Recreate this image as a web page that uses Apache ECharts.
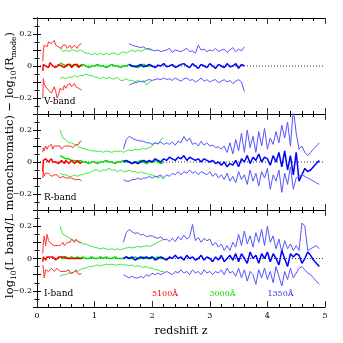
<!DOCTYPE html>
<html>
<head>
    <meta charset="utf-8">
    <title>Band vs monochromatic luminosity</title>
    <script src="https://cdn.jsdelivr.net/npm/echarts@6/dist/echarts.min.js"></script>
    <style>
        html, body { margin: 0; padding: 0; background: #fff; }
        #chart { width: 343px; height: 343px; }
    </style>
</head>
<body>
<div id="chart"></div>
<script>
    // redshift bins
    var zRed = [0.10, 0.11, 0.125, 0.15, 0.175, 0.20, 0.225, 0.25, 0.275, 0.30, 0.325, 0.35, 0.375, 0.40, 0.425,
        0.45, 0.475, 0.50, 0.525, 0.55, 0.575, 0.60, 0.625, 0.65, 0.675, 0.70, 0.725, 0.75, 0.775];
    var zGreen = [0.40, 0.45, 0.50, 0.55, 0.60, 0.65, 0.70, 0.75, 0.80, 0.85, 0.90, 0.95, 1.00, 1.05, 1.10, 1.15,
        1.20, 1.25, 1.30, 1.35, 1.40, 1.45, 1.50, 1.55, 1.60, 1.65, 1.70, 1.75, 1.80, 1.85, 1.90, 1.95, 2.00,
        2.05, 2.10, 2.15, 2.20];
    var zBlue = [1.50, 1.55, 1.60, 1.65, 1.70, 1.75, 1.80, 1.85, 1.90, 1.95, 2.00, 2.05, 2.10, 2.15, 2.20, 2.25,
        2.30, 2.35, 2.40, 2.45, 2.50, 2.55, 2.60, 2.65, 2.70, 2.75, 2.80, 2.85, 2.90, 2.95, 3.00, 3.05, 3.10,
        3.15, 3.20, 3.25, 3.30, 3.35, 3.40, 3.45, 3.50, 3.55, 3.60, 3.65, 3.70, 3.75, 3.80, 3.85, 3.90, 3.95,
        4.00, 4.05, 4.10, 4.15, 4.20, 4.25, 4.30, 4.35, 4.40, 4.45, 4.50, 4.55, 4.60, 4.65, 4.70, 4.75, 4.80,
        4.85, 4.90];

    // V-band
    var vRedHi = [0.03, 0.10, 0.13, 0.14, 0.12, 0.15, 0.16, 0.14, 0.15, 0.16, 0.13, 0.14, 0.12, 0.13, 0.11, 0.13,
        0.12, 0.13, 0.11, 0.12, 0.13, 0.11, 0.12, 0.13, 0.12, 0.11, 0.13, 0.12, 0.14];
    var vRedMid = [-0.03, 0.01, 0.02, 0.0, 0.01, -0.01, 0.02, 0.01, 0.0, 0.01, -0.01, 0.0, 0.01, 0.02, 0.0, 0.01,
        -0.01, 0.0, 0.01, 0.0, 0.01, -0.01, 0.0, 0.01, 0.0, 0.01, -0.01, 0.0, 0.01];
    var vRedLo = [-0.2, -0.08, -0.11, -0.13, -0.12, -0.15, -0.14, -0.17, -0.15, -0.13, -0.16, -0.2, -0.18, -0.14,
        -0.13, -0.15, -0.12, -0.14, -0.12, -0.13, -0.11, -0.13, -0.12, -0.11, -0.13, -0.12, -0.14, -0.13, -0.15];
    var vGreenHi = [0.11, 0.09, 0.1, 0.09, 0.1, 0.1, 0.09, 0.1, 0.09, 0.08, 0.08, 0.07, 0.08, 0.07, 0.08, 0.07,
        0.08, 0.07, 0.08, 0.08, 0.07, 0.08, 0.09, 0.08, 0.09, 0.1, 0.09, 0.1, 0.09, 0.1, 0.11, 0.1, 0.1];
    var vGreenMid = [0.02, 0.01, 0.0, 0.01, 0.0, 0.01, 0.0, 0.0, 0.01, 0.0, -0.01, 0.0, 0.0, 0.01, 0.0, 0.0,
        -0.01, 0.0, 0.01, 0.0, 0.0, -0.01, 0.0, 0.0, 0.01, 0.0, 0.0, -0.01, 0.0, 0.01, 0.0, 0.0, 0.0];
    var vGreenLo = [-0.08, -0.07, -0.08, -0.07, -0.07, -0.06, -0.07, -0.06, -0.06, -0.05, -0.06, -0.06, -0.07,
        -0.07, -0.08, -0.07, -0.08, -0.07, -0.08, -0.08, -0.07, -0.09, -0.09, -0.08, -0.09, -0.09, -0.1, -0.09,
        -0.1, -0.09, -0.12, -0.1, -0.09];
    var vBlueHi = [0.14, 0.13, 0.125, 0.12, 0.115, 0.12, 0.105, 0.11, 0.1, 0.095, 0.1, 0.09, 0.095, 0.1, 0.11,
        0.085, 0.1, 0.095, 0.09, 0.1, 0.11, 0.09, 0.095, 0.08, 0.13, 0.1, 0.105, 0.09, 0.1, 0.095, 0.11, 0.09,
        0.1, 0.105, 0.085, 0.1, 0.115, 0.09, 0.105, 0.095, 0.12];
    var vBlueMid = [0.01, 0.0, -0.005, 0.0, 0.01, -0.005, 0.0, 0.01, 0.0, -0.01, 0.005, 0.0, 0.015, -0.005, 0.0,
        0.01, -0.01, 0.0, 0.01, 0.015, 0.0, -0.01, 0.015, 0.0, -0.015, 0.01, 0.0, -0.01, 0.015, 0.0, -0.015, 0.01,
        0.0, -0.01, 0.015, -0.005, 0.0, 0.015, -0.015, 0.01, 0.0];
    var vBlueLo = [-0.12, -0.11, -0.105, -0.1, -0.095, -0.1, -0.09, -0.085, -0.09, -0.085, -0.08, -0.085, -0.075,
        -0.085, -0.08, -0.09, -0.075, -0.085, -0.095, -0.08, -0.075, -0.09, -0.085, -0.1, -0.09, -0.075, -0.095,
        -0.085, -0.1, -0.09, -0.085, -0.105, -0.095, -0.085, -0.1, -0.09, -0.11, -0.095, -0.085, -0.1, -0.16];

    // R-band
    var rRedHi = [0.06, 0.09, 0.07, 0.1, 0.08, 0.1, 0.09, 0.11, 0.08, 0.1, 0.09, 0.1, 0.09, 0.1, 0.08, 0.09, 0.1,
        0.09, 0.1, 0.09, 0.1, 0.11, 0.09, 0.1, 0.11, 0.12, 0.11, 0.13, 0.13];
    var rRedMid = [-0.06, 0.01, 0.0, 0.02, 0.01, 0.0, 0.01, 0.02, 0.0, 0.01, 0.0, 0.01, -0.01, 0.0, 0.01, 0.0,
        -0.01, 0.01, 0.0, -0.01, 0.0, 0.01, 0.0, -0.01, 0.0, 0.01, 0.0, -0.01, 0.0];
    var rRedLo = [-0.1, -0.06, -0.09, -0.07, -0.08, -0.07, -0.08, -0.09, -0.08, -0.08, -0.09, -0.08, -0.09, -0.1,
        -0.09, -0.09, -0.1, -0.1, -0.09, -0.1, -0.11, -0.1, -0.1, -0.11, -0.1, -0.11, -0.1, -0.11, -0.12];
    var rGreenHi = [0.2, 0.15, 0.14, 0.12, 0.12, 0.11, 0.1, 0.09, 0.085, 0.08, 0.075, 0.07, 0.07, 0.065, 0.07,
        0.06, 0.07, 0.065, 0.06, 0.07, 0.065, 0.07, 0.06, 0.07, 0.075, 0.07, 0.08, 0.075, 0.08, 0.085, 0.08, 0.09,
        0.1, 0.12, 0.11, 0.14, 0.15];
    var rGreenMid = [0.04, 0.03, 0.02, 0.02, 0.01, 0.01, 0.0, 0.01, 0.0, 0.0, -0.01, 0.0, 0.0, -0.01, 0.0, 0.0,
        0.01, 0.0, 0.0, -0.01, 0.0, 0.0, 0.01, 0.0, 0.0, -0.01, 0.0, 0.0, 0.01, 0.0, -0.01, 0.0, 0.0, 0.01, 0.0,
        -0.01, 0.0];
    var rGreenLo = [-0.07, -0.08, -0.08, -0.09, -0.09, -0.08, -0.09, -0.08, -0.08, -0.07, -0.07, -0.06, -0.05,
        -0.05, -0.06, -0.05, -0.05, -0.04, -0.05, -0.05, -0.06, -0.05, -0.06, -0.06, -0.05, -0.06, -0.06, -0.07,
        -0.06, -0.07, -0.07, -0.08, -0.08, -0.09, -0.1, -0.09, -0.11];
    var rBlueHi = [0.08, 0.14, 0.16, 0.15, 0.14, 0.135, 0.13, 0.13, 0.12, 0.12,
        0.11, 0.12, 0.115, 0.125, 0.11, 0.12, 0.11, 0.125, 0.105, 0.13,
        0.12, 0.16, 0.13, 0.15, 0.11, 0.12, 0.1, 0.13, 0.105, 0.12,
        0.1, 0.105, 0.09, 0.095, 0.08, 0.1, 0.06, 0.12, 0.05, 0.14,
        0.07, 0.18, 0.06, 0.2, 0.09, 0.16, 0.06, 0.19, 0.1, 0.21,
        0.08, 0.15, 0.11, 0.19, 0.12, 0.23, 0.15, 0.25, 0.1, 0.33,
        0.18, 0.08, 0.1, 0.06, 0.04, 0.06, 0.08, 0.1, 0.12];
    var rBlueMid = [0.0, 0.01, 0.0, -0.01, 0.0, -0.01, 0.0, 0.01, 0.0, 0.01,
        0.0, 0.02, 0.01, 0.0, 0.02, 0.01, 0.03, 0.02, 0.01, 0.03,
        0.02, 0.04, 0.01, 0.03, 0.02, 0.01, 0.02, 0.0, 0.02, 0.01,
        0.0, 0.01, -0.01, 0.0, -0.02, 0.0, -0.03, -0.01, -0.02, 0.01,
        -0.03, 0.02, 0.0, 0.04, -0.01, 0.03, 0.01, 0.05, 0.0, 0.03,
        0.02, -0.02, 0.04, 0.0, 0.06, -0.03, 0.07, -0.05, 0.04, -0.08,
        0.06, -0.12, -0.08, -0.04, -0.06, -0.05, -0.03, -0.01, 0.01];
    var rBlueLo = [-0.11, -0.12, -0.12, -0.11, -0.11, -0.1, -0.11, -0.1, -0.1, -0.09,
        -0.1, -0.09, -0.09, -0.08, -0.1, -0.08, -0.09, -0.07, -0.08, -0.06,
        -0.08, -0.06, -0.07, -0.05, -0.07, -0.06, -0.08, -0.06, -0.07, -0.08,
        -0.06, -0.09, -0.07, -0.1, -0.08, -0.11, -0.07, -0.12, -0.09, -0.13,
        -0.06, -0.11, -0.08, -0.14, -0.05, -0.12, -0.07, -0.15, -0.06, -0.1,
        -0.04, -0.17, -0.08, -0.12, -0.05, -0.19, -0.07, -0.14, -0.03, -0.17,
        -0.1, -0.09, -0.08, -0.09, -0.1, -0.11, -0.12, -0.13, -0.14];

    // I-band
    var iRedHi = [0.03, 0.1, 0.14, 0.08, 0.15, 0.11, 0.12, 0.09, 0.1, 0.08, 0.09, 0.08, 0.09, 0.08, 0.09, 0.1,
        0.08, 0.09, 0.1, 0.11, 0.1, 0.12, 0.11, 0.1, 0.12, 0.11, 0.1, 0.11, 0.1];
    var iRedMid = [-0.02, 0.01, 0.0, -0.01, 0.01, 0.0, 0.01, 0.0, 0.01, 0.0, -0.01, 0.0, 0.01, 0.0, 0.01, 0.0,
        0.01, 0.02, 0.0, 0.01, 0.0, 0.01, 0.0, 0.01, 0.0, 0.01, 0.0, 0.01, 0.0];
    var iRedLo = [-0.04, -0.06, -0.12, -0.07, -0.06, -0.08, -0.07, -0.06, -0.07, -0.08, -0.07, -0.06, -0.07, -0.08,
        -0.07, -0.08, -0.07, -0.08, -0.08, -0.07, -0.09, -0.08, -0.09, -0.08, -0.07, -0.09, -0.08, -0.1, -0.09];
    var iGreenHi = [0.2, 0.15, 0.14, 0.13, 0.12, 0.11, 0.11, 0.1, 0.09, 0.09, 0.08, 0.075, 0.07, 0.065, 0.06, 0.065,
        0.06, 0.055, 0.06, 0.055, 0.06, 0.055, 0.06, 0.065, 0.07, 0.065, 0.07, 0.075, 0.07, 0.075, 0.08, 0.075,
        0.08, 0.09, 0.1, 0.11, 0.12];
    var iGreenMid = [0.01, 0.0, 0.01, 0.0, 0.01, 0.0, 0.01, 0.0, 0.01, 0.0, 0.0, 0.01, 0.0, 0.0, 0.01, 0.0, 0.01,
        0.0, 0.0, 0.01, 0.0, 0.0, 0.0, 0.01, 0.0, 0.0, 0.01, 0.0, 0.0, 0.01, 0.0, 0.0, 0.01, 0.0, 0.01, 0.0, 0.0];
    var iGreenLo = [-0.11, -0.1, -0.1, -0.09, -0.09, -0.08, -0.08, -0.07, -0.06, -0.06, -0.05, -0.05, -0.045, -0.04,
        -0.045, -0.04, -0.035, -0.04, -0.035, -0.04, -0.04, -0.035, -0.04, -0.04, -0.045, -0.04, -0.05, -0.045,
        -0.05, -0.055, -0.05, -0.06, -0.06, -0.07, -0.07, -0.08, -0.08];
    var iBlueHi = [0.1, 0.16, 0.18, 0.165, 0.155, 0.16, 0.145, 0.15, 0.135, 0.14,
        0.14, 0.13, 0.125, 0.135, 0.115, 0.12, 0.105, 0.125, 0.105, 0.135,
        0.115, 0.145, 0.12, 0.135, 0.21, 0.11, 0.13, 0.1, 0.125, 0.11,
        0.12, 0.08, 0.1, 0.07, 0.09, 0.05, 0.08, 0.05, 0.1, 0.07,
        0.15, 0.08, 0.17, 0.09, 0.14, 0.07, 0.16, 0.1, 0.18, 0.08,
        0.2, 0.1, 0.14, 0.06, 0.12, 0.04, 0.11, 0.06, 0.09, 0.05,
        0.08, 0.05, 0.22, 0.2, 0.05, 0.06, 0.07, 0.08, 0.06];
    var iBlueMid = [0.0, 0.01, 0.0, 0.01, -0.01, 0.0, 0.01, 0.0, 0.01, 0.0,
        0.01, -0.01, 0.0, 0.01, 0.0, -0.01, 0.01, 0.0, 0.02, 0.0,
        0.01, -0.01, 0.02, 0.0, 0.01, -0.01, 0.0, 0.02, -0.01, 0.01,
        0.0, -0.02, 0.01, -0.01, 0.02, -0.02, 0.0, 0.02, -0.01, 0.03,
        -0.02, 0.03, 0.0, -0.03, 0.04, 0.0, 0.02, -0.03, 0.03, 0.0,
        0.04, -0.02, 0.03, 0.0, -0.04, 0.05, 0.0, -0.05, 0.03, 0.01,
        0.03, 0.02, -0.03, 0.0, 0.04, 0.02, -0.01, -0.03, -0.05];
    var iBlueLo = [-0.1, -0.11, -0.12, -0.11, -0.12, -0.12, -0.11, -0.12, -0.1, -0.11,
        -0.09, -0.1, -0.09, -0.1, -0.09, -0.08, -0.09, -0.1, -0.08, -0.09,
        -0.07, -0.09, -0.08, -0.1, -0.07, -0.09, -0.08, -0.1, -0.07, -0.09,
        -0.08, -0.1, -0.08, -0.09, -0.07, -0.1, -0.06, -0.09, -0.08, -0.11,
        -0.06, -0.12, -0.07, -0.14, -0.08, -0.1, -0.16, -0.07, -0.12, -0.06,
        -0.13, -0.08, -0.15, -0.05, -0.11, -0.17, -0.08, -0.13, -0.06, -0.12,
        -0.09, -0.06, -0.05, -0.07, -0.09, -0.1, -0.12, -0.14, -0.16];

    var bandNames = ['V-band', 'R-band', 'I-band'];
    var legendNames = ['5100Å', '3000Å', '1350Å'];
    var yTickLabels = ['−0.2', '0', '0.2'];

    var zBlueV = zBlue.slice(2, 43);
    var zGreenV = zGreen.slice(0, 33);

    var RED = ['#ff3030', '#ff0000'];
    var GREEN = ['#3ee83e', '#00dd00'];
    var BLUE = ['#5555ff', '#0000ff'];

    var panels = [
        [[zGreenV, vGreenHi, vGreenMid, vGreenLo, GREEN], [zRed, vRedHi, vRedMid, vRedLo, RED], [zBlueV, vBlueHi, vBlueMid, vBlueLo, BLUE]],
        [[zGreen, rGreenHi, rGreenMid, rGreenLo, GREEN], [zRed, rRedHi, rRedMid, rRedLo, RED], [zBlue, rBlueHi, rBlueMid, rBlueLo, BLUE]],
        [[zGreen, iGreenHi, iGreenMid, iGreenLo, GREEN], [zRed, iRedHi, iRedMid, iRedLo, RED], [zBlue, iBlueHi, iBlueMid, iBlueLo, BLUE]]
    ];

    var FONT = 'DejaVu Serif';
    var gridTops = [18, 114, 210];
    var gridHeights = [96, 96, 97];

    function pairs(z, v) {
        return z.map(function (x, i) { return [x, v[i]]; });
    }

    function yLabel(v) {
        if (Math.abs(v - 0.2) < 1e-6) return yTickLabels[2];
        if (Math.abs(v) < 1e-6) return yTickLabels[1];
        if (Math.abs(v + 0.2) < 1e-6) return yTickLabels[0];
        return '';
    }

    var grid = [], xAxis = [], yAxis = [], series = [];
    for (var p = 0; p < 3; p++) {
        grid.push({left: 37, right: 18, top: gridTops[p], height: gridHeights[p]});
        ['bottom', 'top'].forEach(function (pos) {
            xAxis.push({
                gridIndex: p, type: 'value', position: pos, min: 0, max: 5, interval: 1,
                axisLine: {show: true, onZero: false, lineStyle: {color: '#000', width: 1}},
                axisTick: {show: true, inside: true, length: 6, lineStyle: {color: '#333'}},
                minorTick: {show: true, splitNumber: 5, length: 3, lineStyle: {color: '#000'}},
                axisLabel: {show: pos === 'bottom' && p === 2, margin: 5, color: '#000', fontFamily: FONT, fontSize: 8},
                splitLine: {show: false}
            });
            yAxis.push({
                gridIndex: p, type: 'value', position: pos === 'bottom' ? 'left' : 'right',
                min: -0.3, max: 0.3, interval: 0.1,
                axisLine: {show: true, lineStyle: {color: '#000', width: 1}},
                axisTick: {show: true, inside: true, length: 4, lineStyle: {color: '#000'}},
                minorTick: {show: true, splitNumber: 2, length: 2.5, lineStyle: {color: '#000'}},
                axisLabel: {show: pos === 'bottom', formatter: yLabel, margin: 5, color: '#000', fontFamily: FONT, fontSize: 8},
                splitLine: {show: false}
            });
        });
        // dotted zero reference line
        series.push({
            type: 'line', xAxisIndex: p * 2, yAxisIndex: p * 2, data: [[0, 0], [5, 0]],
            symbol: 'none', silent: true, z: 1,
            lineStyle: {color: '#000', type: [1, 2], width: 0.8}
        });
        panels[p].forEach(function (set, k) {
            var z = set[0], col = set[4];
            [set[1], set[2], set[3]].forEach(function (vals, j) {
                series.push({
                    type: 'line', xAxisIndex: p * 2, yAxisIndex: p * 2,
                    data: pairs(z, vals), showSymbol: false, symbol: 'none', silent: true,
                    z: 3 + k,
                    lineStyle: {color: j === 1 ? col[1] : col[0], width: j === 1 ? 1.5 : 1}
                });
            });
        });
    }

    var graphic = [
        {
            type: 'text', x: 10, y: 165, rotation: Math.PI / 2,
            style: {
                text: '{n|log}{s|10}{n|(L band/L monochromatic) − log}{s|10}{n|(R}{s|mode}{n|)}',
                align: 'center', verticalAlign: 'middle', fill: '#000',
                rich: {
                    n: {fontFamily: FONT, fontSize: 11.5, lineHeight: 16, fill: '#000'},
                    s: {fontFamily: FONT, fontSize: 7.5, lineHeight: 8, verticalAlign: 'bottom', fill: '#000'}
                }
            }
        },
        {type: 'text', x: 181, y: 331, style: {text: 'redshift z', font: '11px "DejaVu Serif"', fill: '#000', align: 'center', verticalAlign: 'middle'}},
        {type: 'text', x: 44, y: 102, style: {text: bandNames[0], font: '9px "DejaVu Serif"', fill: '#000', align: 'left', verticalAlign: 'middle'}},
        {type: 'text', x: 44, y: 198, style: {text: bandNames[1], font: '9px "DejaVu Serif"', fill: '#000', align: 'left', verticalAlign: 'middle'}},
        {type: 'text', x: 44, y: 293.5, style: {text: bandNames[2], font: '9px "DejaVu Serif"', fill: '#000', align: 'left', verticalAlign: 'middle'}},
        {type: 'text', x: 165, y: 294, style: {text: legendNames[0], font: '8px "DejaVu Serif"', fill: '#ff0000', align: 'center', verticalAlign: 'middle'}},
        {type: 'text', x: 222.5, y: 294, style: {text: legendNames[1], font: '8px "DejaVu Serif"', fill: '#00e000', align: 'center', verticalAlign: 'middle'}},
        {type: 'text', x: 280.5, y: 294, style: {text: legendNames[2], font: '8px "DejaVu Serif"', fill: '#3333ff', align: 'center', verticalAlign: 'middle'}}
    ];

    var chart = echarts.init(document.getElementById('chart'), null, {renderer: 'canvas'});
    chart.setOption({
        animation: false,
        backgroundColor: '#fff',
        textStyle: {fontFamily: FONT},
        grid: grid,
        xAxis: xAxis,
        yAxis: yAxis,
        series: series,
        graphic: graphic
    });
</script>
</body>
</html>
